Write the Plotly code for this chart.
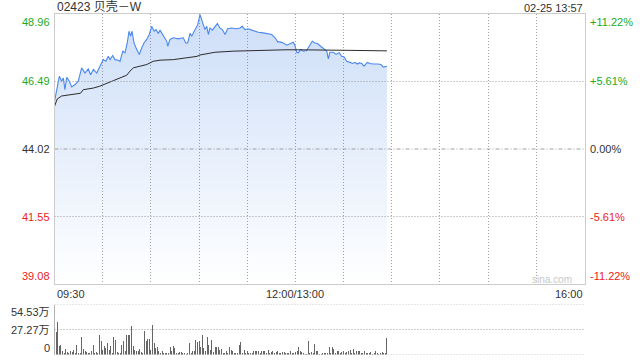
import plotly.graph_objects as go

# ---------------- data ----------------
stock_title = "02423 贝壳－W"
stamp = "02-25 13:57"
prev_close = 44.02

# minutes since 09:30 on the trading clock (lunch removed; 12:00/13:00 = 150)
price_minutes = [
    0, 3.0, 4.5, 5.5, 6.5, 7.6, 9.2, 10.7, 12.8, 14.8,
    16.9, 19.0, 21.0, 22.5, 24.2, 26.3, 28.3, 30.4, 32.0, 33.5,
    34.6, 36.2, 37.7, 39.7, 40.8, 42.5, 43.9, 45.3, 46.4, 47.4,
    48.3, 49.5, 51.2, 52.8, 54.3, 55.7, 57.4, 59.0, 60.5, 62.0,
    63.2, 64.6, 65.7, 67.7, 69.9, 70.5, 71.9, 74.0, 77.1, 80.2,
    81.7, 82.9, 84.4, 85.4, 86.4, 87.9, 89.2, 90.6, 91.7, 92.6,
    93.7, 94.8, 95.8, 96.8, 98.3, 99.9, 101.4, 103.0, 104.5, 106.2,
    107.8, 110.3, 113.4, 115.5, 116.9, 118.6, 120.7, 122.8, 124.8, 126.9,
    130.0, 133.1, 135.2, 137.3, 139.0, 140.4, 142.5, 144.6, 146.6, 148.7,
    149.7, 150.8, 151.8, 153.3, 154.9, 157.0, 158.6, 160.5, 162.2, 163.6,
    165.7, 167.8, 169.5, 170.5, 171.5, 173.6, 175.3, 177.3, 178.8, 180.3,
    181.9, 184.0, 185.7, 187.1, 188.5, 189.8, 191.3, 192.7, 194.8, 196.4,
    198.5, 201.4, 203.3, 204.7, 207.0,
]
price_values = [
    45.76, 46.68, 46.50, 46.62, 46.19, 46.64, 46.50, 46.29, 46.38, 46.50,
    46.99, 46.80, 46.95, 46.74, 46.93, 46.80, 47.05, 47.29, 47.23, 47.41,
    47.29, 47.44, 47.29, 47.27, 47.23, 47.60, 47.54, 47.90, 48.33, 48.15,
    48.33, 47.90, 47.66, 47.48, 47.72, 47.90, 48.03, 48.21, 48.51, 48.33,
    48.39, 48.25, 48.37, 48.15, 47.96, 47.78, 48.03, 48.09, 48.05, 48.09,
    47.90, 47.90, 48.25, 48.15, 48.27, 48.42, 48.58, 48.94, 48.70, 48.58,
    48.39, 48.51, 48.21, 48.45, 48.37, 48.51, 48.61, 48.45, 48.39, 48.21,
    48.42, 48.45, 48.42, 48.45, 48.51, 48.39, 48.42, 48.37, 48.33, 48.29,
    48.27, 48.25, 48.21, 48.09, 47.94, 47.94, 47.90, 47.82, 47.88, 47.93,
    47.81, 47.56, 47.54, 47.66, 47.60, 47.62, 47.78, 47.96, 47.90, 47.88,
    47.78, 47.68, 47.60, 47.32, 47.56, 47.56, 47.48, 47.54, 47.41, 47.39,
    47.23, 47.19, 47.15, 47.19, 47.13, 47.17, 47.15, 47.05, 47.19, 47.15,
    47.13, 47.13, 47.11, 47.02, 47.05,
]

avg_minutes = [0, 1.7, 4.5, 9.7, 14.8, 16.2, 17.9, 24.2, 28.3, 32.5,
               36.6, 40.8, 45.0, 47.0, 49.1, 53.2, 57.4, 61.5, 65.7, 74.0,
               81.3, 86.4, 88.7, 90.6, 94.8, 99.9, 111.3, 121.7, 132.1, 143.5,
               152.9, 165.3, 184.0, 207.0]
avg_values = [45.58, 45.85, 45.96, 46.01, 46.04, 46.06, 46.19, 46.25, 46.32, 46.41,
              46.52, 46.62, 46.72, 46.87, 46.99, 47.05, 47.11, 47.23, 47.27, 47.29,
              47.34, 47.37, 47.41, 47.46, 47.50, 47.56, 47.60, 47.62, 47.63, 47.65,
              47.65, 47.65, 47.63, 47.61]

# volume per minute, in 万 shares (minute 0 .. 207)
volumes = [
    54.53, 24.5, 35.3, 9.0, 10.1, 4.3, 1.8, 6.5, 2.9, 1.8,
    3.6, 2.9, 5.4, 1.8, 10.1, 1.8, 1.5, 18.7, 6.5, 4.3,
    2.9, 1.5, 1.8, 3.6, 10.1, 1.8, 2.9, 1.8, 20.9, 15.1,
    5.4, 9.0, 7.2, 12.6, 5.4, 9.0, 1.5, 18.7, 16.2, 2.9,
    1.8, 1.5, 10.8, 15.1, 4.3, 21.6, 20.9, 20.9, 30.6, 9.0,
    5.4, 3.6, 4.3, 6.5, 2.9, 1.5, 25.2, 14.4, 17.3, 17.3,
    5.4, 32.4, 12.6, 7.2, 7.9, 3.6, 1.8, 4.3, 1.8, 1.8,
    1.5, 1.8, 7.9, 3.6, 9.0, 7.2, 1.5, 1.8, 2.9, 2.9,
    1.8, 1.8, 0.7, 1.8, 12.6, 1.5, 3.6, 3.6, 16.2, 13.7,
    15.1, 7.9, 21.6, 7.2, 4.3, 18.7, 10.1, 5.4, 16.2, 2.9,
    7.9, 7.9, 7.9, 5.4,
    6.5, 1.8, 1.8, 3.6, 1.8, 7.9, 5.4, 3.6, 1.8, 1.8,
    1.8, 10.1, 13.7, 1.8, 5.4, 1.8, 3.6, 1.8, 1.8, 1.2,
    3.6, 4.3, 4.3, 3.6, 1.8, 3.6, 4.3, 3.6, 1.8, 5.4,
    1.8, 2.9, 3.6, 1.8, 2.9, 3.6, 1.8, 1.8, 2.9, 2.9,
    1.8, 1.2, 1.8, 3.6, 1.8, 1.8, 2.9, 3.6, 7.9, 3.6,
    2.9, 1.8, 0.7, 0.7, 15.1, 1.8, 2.9, 1.8, 11.5, 3.6,
    3.6, 0.7, 0.7, 1.2, 1.8, 1.8, 1.8, 7.9, 1.8, 7.9,
    6.5, 1.8, 4.3, 4.3, 1.8, 2.9, 4.3, 1.8, 2.9, 4.3,
    5.4, 1.8, 6.5, 1.8, 4.3, 3.6, 4.3, 1.8, 1.8, 3.6,
    1.8, 1.8, 1.2, 2.9, 0.7, 1.8, 4.3, 1.8, 0.7, 1.8,
    2.9, 1.8, 1.8, 18.0,
]
volume_minutes = list(range(len(volumes)))

price_ticks = [48.96, 46.49, 44.02, 41.55, 39.08]
pct_ticks = ["+11.22%", "+5.61%", "0.00%", "-5.61%", "-11.22%"]
volume_ticks = [54.53, 27.27, 0]
volume_tick_text = ["54.53万", "27.27万", "0"]
time_grid = [30, 60, 90, 120, 150, 180, 210, 240, 270, 300]
time_labels = [(0, "09:30", "left"), (150, "12:00/13:00", "center"), (330, "16:00", "right")]
session_minutes = 330

# ---------------- styling / layout ----------------
W, H = 640, 360
def px(x):
    return x / W
def py(y):
    return 1 - y / H

FONT = "Liberation Sans, Arial, Noto Sans CJK SC, sans-serif"
GREEN = "#22aa22"
RED = "#ee2222"
DARK = "#333333"
GRID = "#a2a2a2"
HGRID = "#9a9a9a"
BORDER = "#cccccc"
DOT = "1px,2px"

# domains chosen so the horizontal grid lines fall on pixel centres
X_DOM = [px(54.5), px(584.5)]
Y_DOM = [py(284), py(14)]
Y2_DOM = [py(354.5), py(304.5)]

fig = go.Figure()

# translucent gradient fill so the grid shows through it
fig.add_trace(go.Scatter(
    x=price_minutes, y=price_values, mode="lines",
    line=dict(color="#4a88ee", width=1.1),
    fill="tozeroy",
    fillgradient=dict(type="vertical",
                      colorscale=[[0, "rgba(55,123,227,0)"], [1, "rgba(55,123,227,0.25)"]],
                      start=price_ticks[-1], stop=price_ticks[0]),
    xaxis="x", yaxis="y", hoverinfo="skip", showlegend=False,
))
fig.add_trace(go.Scatter(
    x=avg_minutes, y=avg_values, mode="lines",
    line=dict(color="#2b2b2b", width=1),
    xaxis="x", yaxis="y", hoverinfo="skip", showlegend=False,
))
fig.add_trace(go.Bar(
    x=volume_minutes, y=volumes, width=0.62,
    marker=dict(color="#666666", line=dict(width=0)),
    xaxis="x2", yaxis="y2", cliponaxis=False, hoverinfo="skip", showlegend=False,
))

# horizontal dotted grid lines (price and volume panels)
for p in (price_ticks[1], price_ticks[3]):
    fig.add_shape(type="line", xref="x", yref="y", x0=0, x1=session_minutes,
                  y0=p, y1=p, layer="above",
                  line=dict(color=HGRID, width=1, dash=DOT))
for v in volume_ticks:
    fig.add_shape(type="line", xref="x2", yref="y2", x0=0, x1=session_minutes,
                  y0=v, y1=v, layer="below",
                  line=dict(color=HGRID, width=1, dash=DOT))
fig.add_shape(type="line", xref="x", yref="y", x0=0, x1=session_minutes,
              y0=prev_close, y1=prev_close, layer="above",
              line=dict(color="#a0a0a0", width=1, dash="4px,2px,1px,2px"))

ann = []
ann.append(dict(text=stock_title, x=px(55), y=py(7), xref="paper", yref="paper",
                xanchor="left", yanchor="middle", showarrow=False,
                font=dict(size=12, color=DARK, family=FONT)))
ann.append(dict(text=stamp, x=px(585), y=py(8), xref="paper", yref="paper",
                xanchor="right", yanchor="middle", showarrow=False,
                font=dict(size=11, color=DARK, family=FONT)))
for i, (p, pct) in enumerate(zip(price_ticks, pct_ticks)):
    if p > prev_close + 1e-9:
        col = GREEN
    elif p < prev_close - 1e-9:
        col = RED
    else:
        col = DARK
    ya = "top" if i == 0 else ("bottom" if i == len(price_ticks) - 1 else "middle")
    ann.append(dict(text=f"{p:.2f}", x=px(52), y=p, xref="paper", yref="y",
                    xanchor="right", yanchor=ya, showarrow=False,
                    font=dict(size=11, color=col, family=FONT)))
    ann.append(dict(text=pct, x=px(588), y=p, xref="paper", yref="y",
                    xanchor="left", yanchor=ya, showarrow=False,
                    font=dict(size=11, color=col, family=FONT)))
vol_label_y = [311.5, 329.5, 348]
for t, yy in zip(volume_tick_text, vol_label_y):
    ann.append(dict(text=t, x=px(52), y=py(yy), xref="paper", yref="paper",
                    xanchor="right", yanchor="middle", showarrow=False,
                    font=dict(size=11, color=DARK, family=FONT)))
for m, t, anc in time_labels:
    ann.append(dict(text=t, x=m, y=py(293.5), xref="x", yref="paper",
                    xanchor=anc, yanchor="middle", showarrow=False,
                    font=dict(size=11, color=DARK, family=FONT)))
ann.append(dict(text="sina.com", x=px(574), y=py(279), xref="paper", yref="paper",
                xanchor="right", yanchor="middle", showarrow=False,
                font=dict(size=10, color="#c8c8c8", family=FONT)))

fig.update_layout(
    width=W, height=H, autosize=False,
    margin=dict(l=0, r=0, t=0, b=0, pad=0),
    paper_bgcolor="white", plot_bgcolor="white",
    showlegend=False, bargap=0,
    annotations=ann,
    xaxis=dict(domain=X_DOM, range=[0, session_minutes], anchor="y",
               tickmode="array", tickvals=time_grid,
               showticklabels=False, ticks="",
               showgrid=True, gridcolor=GRID, griddash=DOT, gridwidth=1,
               showline=True, mirror=True, linecolor=BORDER, linewidth=1,
               zeroline=False, fixedrange=True),
    yaxis=dict(domain=Y_DOM, range=[price_ticks[-1], price_ticks[0]], anchor="x",
               showticklabels=False, ticks="", showgrid=False,
               showline=True, mirror=True, linecolor=BORDER, linewidth=1,
               zeroline=False, fixedrange=True),
    xaxis2=dict(domain=X_DOM, range=[0, session_minutes], anchor="y2",
                showticklabels=False, ticks="", showgrid=False, showline=False,
                zeroline=False, fixedrange=True),
    yaxis2=dict(domain=Y2_DOM, range=[0, volume_ticks[0]], anchor="x2",
                showticklabels=False, ticks="", showgrid=False,
                showline=False, zeroline=False, fixedrange=True),
)

fig.write_html("out.html", config=dict(displayModeBar=False, staticPlot=True))
